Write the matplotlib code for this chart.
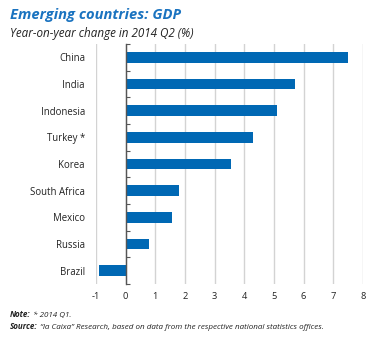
import matplotlib
matplotlib.use("Agg")
import matplotlib.pyplot as plt
import numpy as np

categories = ["China", "India", "Indonesia", "Turkey *", "Korea",
              "South Africa", "Mexico", "Russia", "Brazil"]
values = [7.5, 5.7, 5.1, 4.3, 3.55, 1.8, 1.55, 0.8, -0.9]
xticks = [-1, 0, 1, 2, 3, 4, 5, 6, 7, 8]

title = "Emerging countries: GDP"
subtitle = "Year-on-year change in 2014 Q2 (%)"
note_b, note_t = "Note:", " * 2014 Q1."
src_b, src_t = "Source:", " \u201cla Caixa\u201d Research, based on data from the respective national statistics offices."

FONT = "Open Sans"
BLUE = "#0068b4"
TITLE_BLUE = "#1a73c0"
GRID = "#d3d3d3"
AXIS = "#555555"
TXT = "#222222"

fig = plt.figure(figsize=(3.73, 3.38), dpi=100)
ax = fig.add_axes([96/373, 1-284/338, (363-96)/373, (284-44)/338])

y = np.arange(len(categories))
ax.barh(y, values, height=0.4, color=BLUE, zorder=3)
ax.set_ylim(len(categories)-0.5, -0.5)
ax.set_xlim(-1, 8)
ax.set_xticks(xticks)
ax.set_xticklabels([str(t) for t in xticks], fontsize=6.7, family=FONT, color=TXT)
ax.set_yticks(y)
ax.set_yticklabels(categories, fontsize=6.9, family=FONT, color=TXT)
ax.tick_params(axis="both", length=0)
ax.tick_params(axis="y", pad=8)
ax.tick_params(axis="x", pad=6)
for s in ax.spines.values():
    s.set_visible(False)
ax.grid(axis="x", color=GRID, linewidth=1.0, zorder=0)
ax.set_axisbelow(True)

# zero line with category boundary ticks
sec = ax.secondary_yaxis(1/9)
sec.set_yticks(np.arange(-0.5, len(categories), 1.0))
sec.tick_params(axis="y", direction="in", length=3, width=0.8, color=AXIS, labelleft=False, labelright=False)
sec.spines["left"].set_color(AXIS)
sec.spines["left"].set_linewidth(1.0)
sec.spines["left"].set_zorder(4)
sec.set_zorder(4)

fig.text(10/373, 1-15/338, title, fontsize=10.6, fontweight="bold", fontstyle="italic",
         color=TITLE_BLUE, family=FONT, va="center", ha="left")
fig.text(10/373, 1-33/338, subtitle, fontsize=8.4, fontstyle="italic",
         color=TXT, family=FONT, va="center", ha="left")

def two_part(ypix, bold, rest):
    t1 = fig.text(10/373, 1-ypix/338, bold, fontsize=5.8, fontweight="bold", fontstyle="italic",
                  color=TXT, family=FONT, va="baseline", ha="left")
    ax.annotate(rest, xy=(1, 0), xycoords=t1, va="bottom", ha="left",
                fontsize=5.8, fontstyle="italic", color=TXT, family=FONT, annotation_clip=False)

two_part(317, note_b, note_t)
two_part(329, src_b, src_t)

fig.savefig("out.png", dpi=100)
